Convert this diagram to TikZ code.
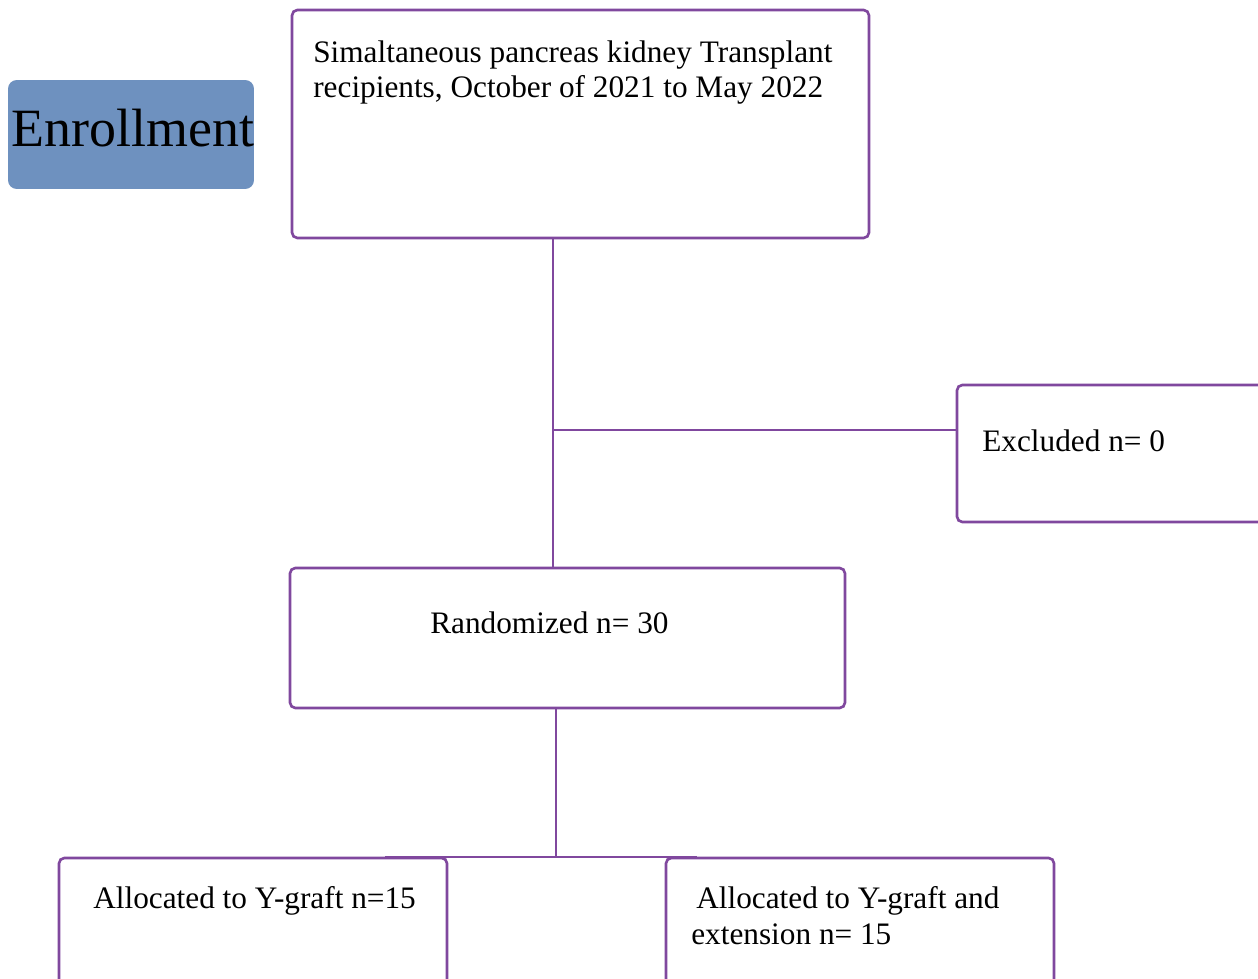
\documentclass[tikz,border=0pt]{standalone}
\usepackage{fontspec}
\setmainfont{Liberation Serif}
\definecolor{boxpurple}{RGB}{128,72,158}
\definecolor{enrollblue}{RGB}{110,145,191}

\begin{document}
\begin{tikzpicture}[x=0.02cm,y=-0.02cm,line width=1.5pt]

        \useasboundingbox (0,0) rectangle (1258,979);
        \clip (0,0) rectangle (1258,979);

        \begin{scope}[every node/.style={draw=boxpurple, rounded corners=3pt}]
          \node[minimum width=11.54cm, minimum height=4.56cm] (top)   at (580.5,124)  {};
          \node[minimum width=6.86cm,  minimum height=2.74cm] (excl)  at (1128.5,453.5) {};
          \node[minimum width=11.1cm,  minimum height=2.8cm]  (rand)  at (567.5,638)  {};
          \node[minimum width=7.76cm,  minimum height=3.24cm] (ygraft) at (253,939)   {};
          \node[minimum width=7.76cm,  minimum height=3.24cm] (yext)  at (860,939)    {};
        \end{scope}

        \node[fill=enrollblue, rounded corners=5pt, minimum width=4.92cm, minimum height=2.18cm] (enroll) at (131,134.5) {};

        \begin{scope}[every node/.style={inner sep=0pt, anchor=base west, font=\fontsize{17.8}{20.7}\selectfont}]
          \node (t1) at (312,63)  {Simaltaneous pancreas kidney Transplant};
          \node (t2) at (312,98)  {recipients, October of 2021 to May 2022};
          \node (t3) at (981,452) {Excluded n= 0};
          \node (t4) at (429,634) {Randomized n= 30};
          \node (t5) at (92,908)  {Allocated to Y-graft n=15};
          \node (t6) at (695,908) {Allocated to Y-graft and};
          \node (t7) at (690,944) {extension n= 15};
          \node[font=\fontsize{30.7}{36}\selectfont] (t0) at (10,147) {Enrollment};
        \end{scope}

        \coordinate (j1) at (553,430);
        \coordinate (j2) at (556,857);
        \coordinate (sl) at (385,857);
        \coordinate (sr) at (697,857);

        \begin{scope}[every path/.style={draw=boxpurple}]
          \path (top.south -| j1) edge (rand.north -| j1);
          \path (j1) edge (excl.west |- j1);
          \path (rand.south -| j2) edge (j2);
          \path (sl) edge (sr);
        \end{scope}

      \end{tikzpicture}
\end{document}
